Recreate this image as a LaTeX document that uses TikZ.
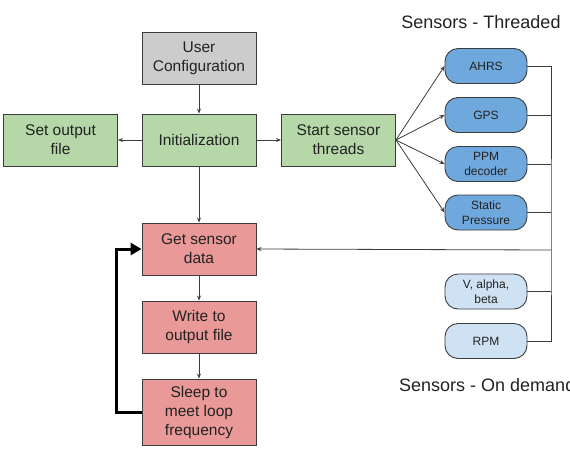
\documentclass[tikz,border=0pt]{standalone}
\usepackage{fontspec}
\setmainfont{Liberation Sans}
\usetikzlibrary{arrows.meta}
\definecolor{cgray}{HTML}{CCCCCC}
\definecolor{cgreen}{HTML}{B6D7A8}
\definecolor{cred}{HTML}{EA9999}
\definecolor{cblue}{HTML}{6FA8DC}
\definecolor{clblue}{HTML}{CFE2F3}
\definecolor{cline}{HTML}{3C3C3C}
\definecolor{ctext}{HTML}{222222}
\begin{document}
\begin{tikzpicture}[x=1pt,y=-1pt,
  mainbox/.style={draw=cline, line width=0.9pt, minimum width=114pt, minimum height=52pt, align=center, inner sep=0pt, text=ctext, font=\fontsize{15.5}{19}\selectfont},
  sensorbox/.style={draw=cline, line width=0.9pt, rounded corners=13pt, minimum width=82pt, minimum height=35pt, align=center, inner sep=0pt, text=ctext, font=\fontsize{12}{15}\selectfont},
  arr/.style={draw=cline, line width=0.8pt, -{Stealth[length=5pt,width=4pt]}},
  bus/.style={draw=cline, line width=0.8pt},
  loop/.style={draw=black, line width=3pt, -{Triangle[length=11pt,width=12pt]}},
  title/.style={text=ctext, font=\fontsize{18}{22}\selectfont, inner sep=0pt}
]
\useasboundingbox (0,0) rectangle (570,448);
% main flow
\node[mainbox, fill=cgray] (user) at (199,58.5) {User\\Configuration};
\node[mainbox, fill=cgreen] (init) at (199,140) {Initialization};
\node[mainbox, fill=cgreen] (setout) at (60.5,140) {Set output\\file};
\node[mainbox, fill=cgreen] (start) at (338.5,140) {Start sensor\\threads};
\node[mainbox, fill=cred] (get) at (199,249) {Get sensor\\data};
\node[mainbox, fill=cred] (write) at (199,327) {Write to\\output file};
\node[mainbox, fill=cred, minimum height=66pt] (sleep) at (199,412) {Sleep to\\meet loop\\frequency};
% sensors
\node[sensorbox, fill=cblue] (ahrs) at (486,66) {AHRS};
\node[sensorbox, fill=cblue] (gps) at (486,115) {GPS};
\node[sensorbox, fill=cblue] (ppm) at (486,164) {PPM\\decoder};
\node[sensorbox, fill=cblue] (static) at (486,212.5) {Static\\Pressure};
\node[sensorbox, fill=clblue] (valpha) at (486,291.5) {V, alpha,\\beta};
\node[sensorbox, fill=clblue] (rpm) at (486,341) {RPM};
% titles
\node[title] (t1) at (481,22) {Sensors - Threaded};
\node[title, anchor=west] (t2) at (399,385) {Sensors - On demand};
% bus
\coordinate (busin) at (551,250);
\draw[bus] (ahrs.east) -| (busin) |- (rpm.east);
\draw[bus] (gps.east) -- (gps.east -| busin);
\draw[bus] (ppm.east) -- (ppm.east -| busin);
\draw[bus] (static.east) -- (static.east -| busin);
\draw[bus] (valpha.east) -- (valpha.east -| busin);
\draw[arr] (busin) -- (get.east);
% connectors
\draw[arr] (user) -- (init);
\draw[arr] (init) -- (setout);
\draw[arr] (init) -- (start);
\draw[arr] (init) -- (get);
\draw[arr] (get) -- (write);
\draw[arr] (write) -- (sleep);
\draw[arr] (start.east) -- (ahrs.west);
\draw[arr] (start.east) -- (gps.west);
\draw[arr] (start.east) -- (ppm.west);
\draw[arr] (start.east) -- (static.west);
\draw[loop] (sleep.west) -- ++(-25,0) |- (get.west);
\end{tikzpicture}
\end{document}
